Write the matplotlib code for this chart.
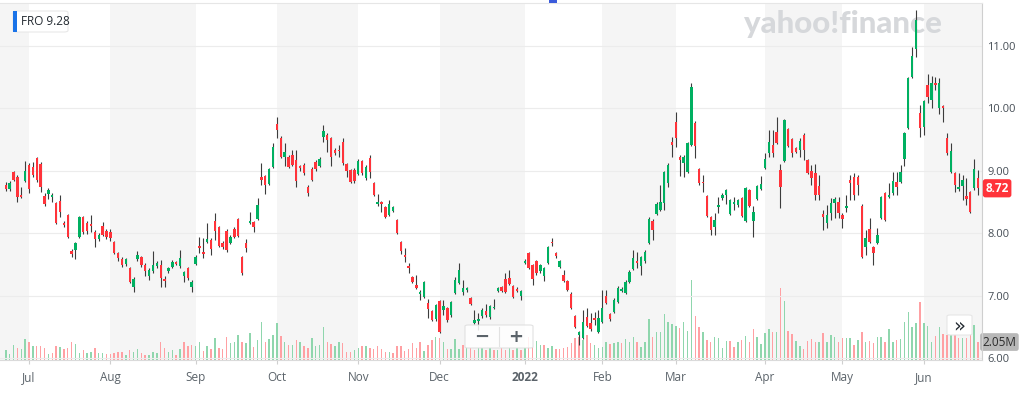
import numpy as np
import pandas as pd
import matplotlib.pyplot as plt
from matplotlib.patches import Rectangle, FancyBboxPatch

# ====== Dados (FRO, diario, jun/2021 - jun/2022) =============================

ticker = "FRO"
header_price = 9.28

holidays = ["2021-07-05", "2021-09-06", "2021-11-25", "2021-12-24", "2022-01-17",
            "2022-02-21", "2022-04-15", "2022-05-30", "2022-06-20"]

opens = [
    8.77, 8.71, 8.98, 8.90, 8.62, 8.84, 9.09, 9.06, 9.20, 9.11, 8.60, 8.63, 8.58, 8.48, 8.52, 8.17,
    8.29, 7.72, 7.73, 7.94, 8.26, 8.16, 8.15, 8.02, 7.90, 8.12, 8.04, 8.02, 7.86, 7.68, 7.59, 7.50,
    7.44, 7.14, 7.58, 7.62, 7.49, 7.31, 7.39, 7.47, 7.49, 7.27, 7.39, 7.46, 7.54, 7.47, 7.31, 7.44,
    7.14, 7.51, 7.80, 7.70, 7.86, 7.89, 8.20, 8.10, 7.84, 8.04, 7.84, 8.07, 8.23, 7.62, 7.84, 8.16,
    8.18, 8.23, 8.90, 8.92, 8.79, 9.06, 9.75, 9.52, 9.22, 9.22, 9.25, 9.17, 9.07, 9.09, 8.74, 9.03,
    9.14, 9.08, 9.54, 9.57, 9.52, 9.33, 9.34, 9.46, 9.11, 9.01, 9.02, 8.95, 9.16, 8.88, 9.20, 8.80,
    8.46, 8.50, 8.42, 8.29, 8.36, 8.21, 7.86, 7.65, 7.47, 7.30, 7.17, 7.02, 6.98, 6.88, 6.75, 6.62,
    6.91, 6.77, 6.80, 6.69, 7.04, 7.20, 7.06, 7.09, 6.96, 6.56, 6.60, 6.67, 6.75, 6.66, 6.80, 7.07,
    7.14, 7.27, 7.28, 7.15, 7.11, 7.00, 7.53, 7.68, 7.49, 7.55, 7.39, 7.31, 7.52, 7.86, 7.68, 7.46,
    7.33, 7.23, 7.03, 6.67, 6.37, 6.32, 6.66, 6.56, 6.64, 6.42, 6.58, 7.00, 6.70, 6.74, 6.90, 7.07,
    7.04, 7.22, 7.43, 7.56, 7.47, 7.55, 7.84, 8.20, 8.31, 8.37, 8.48, 8.80, 9.46, 9.78, 9.22, 9.13,
    8.98, 9.41, 9.77, 9.03, 8.82, 8.60, 8.26, 8.10, 8.42, 8.56, 8.61, 8.31, 8.47, 8.45, 8.56, 8.20,
    8.69, 8.20, 8.55, 8.71, 9.05, 9.28, 9.41, 9.62, 9.01, 9.16, 9.67, 9.51, 9.36, 9.33, 9.58, 9.17,
    9.00, 8.96, 8.76, 8.31, 8.16, 8.32, 8.48, 8.50, 8.29, 8.40, 8.85, 8.90, 8.90, 8.44, 7.78, 8.07,
    7.78, 7.84, 8.24, 8.64, 8.58, 8.64, 8.82, 8.82, 9.19, 9.69, 10.50, 10.95, 9.93, 9.70, 10.38, 10.14,
    10.41, 10.00, 10.04, 9.52, 8.98, 8.96, 8.71, 8.76, 8.60, 8.66, 8.72, 8.88,
]
highs = [
    8.82, 8.84, 9.00, 8.93, 8.74, 9.16, 9.12, 9.14, 9.22, 9.14, 8.65, 8.73, 8.65, 8.50, 8.61, 8.20,
    8.30, 7.75, 7.86, 8.28, 8.28, 8.20, 8.29, 8.05, 8.00, 8.18, 8.06, 8.06, 7.88, 7.70, 7.62, 7.60,
    7.46, 7.30, 7.71, 7.64, 7.52, 7.44, 7.71, 7.55, 7.57, 7.31, 7.46, 7.57, 7.56, 7.73, 7.40, 7.46,
    7.25, 7.65, 7.94, 7.92, 8.16, 7.92, 8.32, 8.12, 7.88, 8.07, 7.97, 8.10, 8.25, 7.64, 7.91, 8.34,
    8.20, 8.56, 9.12, 8.94, 9.05, 9.45, 9.86, 9.55, 9.45, 9.25, 9.33, 9.33, 9.10, 9.12, 8.77, 9.06,
    9.17, 9.22, 9.73, 9.60, 9.54, 9.36, 9.41, 9.53, 9.13, 9.03, 9.04, 9.19, 9.18, 9.09, 9.25, 8.82,
    8.63, 8.52, 8.44, 8.53, 8.44, 8.23, 7.88, 7.76, 7.52, 7.32, 7.33, 7.09, 7.24, 6.95, 6.77, 6.87,
    6.93, 6.93, 6.82, 6.92, 7.30, 7.52, 7.25, 7.14, 6.98, 6.77, 6.72, 6.80, 6.87, 6.85, 6.95, 7.14,
    7.16, 7.36, 7.41, 7.17, 7.13, 7.09, 7.58, 7.70, 7.51, 7.57, 7.51, 7.46, 7.80, 7.92, 7.70, 7.57,
    7.41, 7.25, 7.05, 6.69, 6.44, 6.77, 6.80, 6.72, 6.74, 6.77, 7.09, 7.09, 6.72, 6.96, 7.15, 7.13,
    7.25, 7.41, 7.73, 7.70, 7.64, 7.73, 8.26, 8.22, 8.50, 8.77, 9.00, 9.12, 9.54, 9.94, 9.25, 9.25,
    9.46, 10.41, 9.80, 9.05, 8.93, 8.62, 8.28, 8.32, 8.58, 8.64, 8.71, 8.55, 8.58, 8.55, 8.58, 8.74,
    8.71, 8.44, 8.78, 8.92, 9.29, 9.65, 9.65, 9.86, 9.11, 9.83, 9.69, 9.53, 9.38, 9.53, 9.60, 9.19,
    9.09, 9.11, 8.93, 8.37, 8.45, 8.56, 8.58, 8.58, 8.32, 8.61, 8.93, 8.96, 8.93, 8.46, 8.05, 8.24,
    7.80, 8.08, 8.60, 8.66, 8.80, 8.98, 8.98, 9.09, 9.62, 10.51, 10.98, 11.58, 10.05, 10.14, 10.55, 10.52,
    10.50, 10.49, 10.06, 9.60, 9.45, 8.98, 8.96, 8.93, 8.88, 8.68, 9.19, 9.01,
]
lows = [
    8.68, 8.67, 8.83, 8.50, 8.56, 8.82, 8.64, 8.90, 8.82, 8.66, 8.44, 8.55, 8.50, 8.15, 8.26, 8.10,
    7.92, 7.62, 7.59, 7.92, 7.98, 7.99, 8.02, 7.78, 7.88, 7.95, 7.90, 7.88, 7.66, 7.56, 7.46, 7.48,
    7.20, 7.06, 7.55, 7.46, 7.31, 7.25, 7.37, 7.45, 7.14, 7.14, 7.37, 7.44, 7.49, 7.45, 7.22, 7.25,
    7.06, 7.49, 7.68, 7.60, 7.84, 7.65, 7.89, 7.78, 7.74, 7.70, 7.82, 7.92, 7.94, 7.33, 7.70, 8.14,
    8.02, 8.21, 8.77, 8.63, 8.77, 9.04, 9.53, 9.20, 9.08, 9.04, 9.07, 8.74, 9.00, 8.94, 8.60, 8.83,
    9.00, 9.06, 9.46, 9.30, 9.08, 9.25, 9.22, 9.10, 8.90, 8.80, 8.81, 8.93, 8.93, 8.86, 8.88, 8.59,
    8.44, 8.34, 8.24, 8.27, 8.34, 7.98, 7.67, 7.54, 7.36, 7.20, 7.10, 6.93, 6.96, 6.64, 6.59, 6.60,
    6.40, 6.69, 6.58, 6.66, 7.02, 7.18, 7.01, 7.06, 6.85, 6.54, 6.45, 6.64, 6.66, 6.63, 6.78, 7.05,
    7.05, 7.04, 7.17, 6.96, 7.06, 6.93, 7.50, 7.42, 7.17, 7.33, 7.37, 7.23, 7.50, 7.80, 7.60, 7.44,
    7.21, 7.07, 6.78, 6.48, 6.21, 6.30, 6.49, 6.44, 6.53, 6.40, 6.56, 6.86, 6.60, 6.72, 6.88, 7.05,
    7.02, 7.20, 7.41, 7.44, 7.33, 7.53, 7.82, 7.89, 8.29, 8.35, 8.37, 8.74, 9.22, 9.38, 8.92, 8.90,
    8.96, 9.39, 9.20, 8.78, 8.66, 8.26, 7.97, 7.97, 8.32, 8.54, 8.47, 8.29, 8.37, 8.42, 8.26, 8.18,
    8.42, 7.94, 8.53, 8.69, 9.03, 9.22, 9.22, 9.43, 8.40, 9.14, 9.38, 9.22, 9.28, 9.22, 9.17, 8.95,
    8.77, 8.53, 8.53, 8.05, 8.08, 8.21, 8.24, 8.24, 8.08, 8.34, 8.53, 8.53, 8.61, 7.60, 7.65, 7.84,
    7.49, 7.82, 8.22, 8.19, 8.56, 8.62, 8.61, 8.80, 9.08, 9.67, 10.48, 10.82, 9.54, 9.57, 10.09, 10.00,
    10.29, 9.91, 9.78, 9.26, 8.96, 8.66, 8.68, 8.53, 8.45, 8.32, 8.70, 8.61,
]
closes = [
    8.71, 8.80, 8.85, 8.58, 8.58, 9.00, 8.71, 8.93, 8.85, 8.74, 8.47, 8.69, 8.62, 8.16, 8.34, 8.13,
    7.94, 7.66, 7.84, 8.26, 8.02, 8.03, 8.11, 7.90, 7.97, 7.97, 7.94, 7.92, 7.68, 7.60, 7.49, 7.58,
    7.22, 7.27, 7.65, 7.49, 7.39, 7.41, 7.49, 7.52, 7.28, 7.24, 7.44, 7.54, 7.51, 7.60, 7.38, 7.28,
    7.22, 7.62, 7.76, 7.66, 7.90, 7.75, 8.04, 7.80, 7.78, 7.73, 7.94, 7.94, 7.96, 7.36, 7.76, 8.19,
    8.10, 8.45, 8.86, 8.77, 9.03, 9.38, 9.65, 9.22, 9.30, 9.06, 9.09, 8.84, 9.04, 8.96, 8.64, 8.85,
    9.03, 9.19, 9.64, 9.49, 9.22, 9.28, 9.31, 9.12, 9.00, 8.82, 8.83, 9.16, 8.97, 9.06, 8.98, 8.61,
    8.50, 8.47, 8.26, 8.47, 8.42, 8.00, 7.71, 7.62, 7.44, 7.22, 7.12, 7.05, 7.22, 6.79, 6.61, 6.85,
    6.42, 6.83, 6.61, 6.90, 7.25, 7.41, 7.12, 7.12, 6.87, 6.61, 6.63, 6.77, 6.69, 6.83, 6.82, 7.12,
    7.07, 7.06, 7.19, 6.98, 7.08, 7.07, 7.56, 7.44, 7.27, 7.36, 7.49, 7.44, 7.78, 7.84, 7.63, 7.55,
    7.23, 7.09, 6.80, 6.50, 6.42, 6.58, 6.51, 6.46, 6.61, 6.64, 6.80, 6.88, 6.63, 6.93, 7.12, 7.10,
    7.22, 7.38, 7.60, 7.53, 7.62, 7.70, 8.23, 8.05, 8.47, 8.50, 8.98, 9.09, 9.41, 9.52, 9.17, 9.22,
    9.44, 10.34, 9.40, 8.80, 8.80, 8.28, 8.05, 8.21, 8.45, 8.61, 8.69, 8.53, 8.50, 8.53, 8.28, 8.72,
    8.44, 8.34, 8.76, 8.79, 9.19, 9.46, 9.28, 9.45, 8.74, 9.81, 9.40, 9.28, 9.30, 9.48, 9.33, 8.97,
    8.88, 8.61, 8.61, 8.26, 8.29, 8.48, 8.55, 8.32, 8.23, 8.44, 8.80, 8.61, 8.77, 7.62, 7.92, 7.86,
    7.68, 7.97, 8.58, 8.21, 8.61, 8.83, 8.74, 8.98, 9.60, 10.49, 10.84, 11.42, 9.69, 10.12, 10.18, 10.40,
    10.38, 10.41, 10.01, 9.28, 9.32, 8.77, 8.74, 8.85, 8.55, 8.34, 9.03, 8.72,
]
# volume em milhoes
volumes = [
    1.14, 0.68, 1.71, 1.37, 1.25, 2.39, 2.05, 1.60, 1.60, 1.60, 1.37, 0.68, 0.80, 1.60, 1.48, 1.25,
    1.37, 2.05, 1.82, 0.80, 1.14, 0.80, 0.91, 1.37, 0.80, 0.80, 0.68, 0.68, 0.80, 0.91, 0.91, 0.57,
    1.14, 0.91, 1.25, 0.80, 0.57, 0.57, 0.91, 0.80, 2.05, 1.37, 0.91, 1.14, 0.57, 1.25, 2.05, 1.60,
    1.71, 1.60, 2.05, 1.03, 1.60, 1.25, 2.51, 1.37, 1.25, 2.62, 1.94, 2.05, 2.85, 2.05, 1.94, 3.08,
    1.48, 2.28, 4.33, 2.05, 2.39, 2.85, 4.22, 2.74, 2.05, 1.71, 1.71, 2.28, 2.05, 1.60, 1.37, 2.51,
    1.60, 1.71, 3.76, 2.05, 1.82, 1.60, 2.05, 1.94, 0.91, 0.91, 1.14, 1.37, 1.60, 1.60, 1.37, 1.25,
    1.60, 1.25, 0.91, 0.91, 0.80, 1.60, 1.60, 1.03, 1.25, 1.94, 1.37, 2.05, 1.03, 1.71, 2.28, 2.62,
    2.51, 2.05, 1.25, 1.25, 2.39, 1.25, 1.71, 1.37, 1.37, 1.14, 1.37, 1.37, 1.14, 1.37, 1.14, 1.14,
    1.37, 1.14, 1.37, 1.14, 1.37, 1.14, 1.37, 2.62, 1.48, 2.17, 1.71, 1.71, 1.37, 1.60, 1.25, 1.25,
    1.37, 1.48, 1.94, 2.51, 2.62, 2.28, 2.85, 1.94, 1.71, 1.37, 1.48, 2.05, 1.82, 1.94, 2.05, 1.94,
    2.39, 2.05, 2.62, 2.05, 1.48, 2.05, 4.67, 2.62, 3.19, 3.19, 5.24, 4.33, 4.10, 3.88, 3.65, 4.33,
    3.31, 9.12, 5.02, 3.76, 3.19, 2.28, 2.05, 2.62, 2.51, 1.37, 2.17, 2.17, 1.48, 2.05, 2.28, 2.74,
    2.05, 3.53, 2.62, 1.82, 3.08, 3.53, 3.19, 3.19, 8.21, 6.73, 3.31, 2.96, 2.17, 1.60, 1.25, 2.17,
    2.39, 2.05, 2.05, 3.08, 2.05, 2.85, 2.62, 2.05, 2.51, 2.51, 2.51, 1.71, 2.28, 3.19, 2.05, 2.17,
    1.94, 2.62, 2.62, 2.05, 3.53, 2.05, 2.28, 2.39, 4.33, 5.47, 3.76, 4.22, 6.61, 4.22, 3.88, 2.05,
    2.74, 3.76, 2.96, 2.85, 2.85, 2.85, 2.51, 2.51, 2.51, 2.85, 3.99, 2.05,
]

# ====== Preparacao ===========================================================

o, h, l, c = map(np.array, (opens, highs, lows, closes))
v = np.array(volumes)
n = len(c)
x = np.arange(n)

dates = pd.bdate_range("2021-06-23", "2022-06-22")
dates = dates[~dates.isin(pd.to_datetime(holidays))][:n]
months = dates.to_period("M")
starts = [i for i in range(1, n) if months[i] != months[i - 1]]
tick_labels = ["2022" if dates[i].month == 1 else dates[i].strftime("%b") for i in starts]

green, red = "#00b061", "#ff333a"
candle_colors = np.where(c >= o, green, red)
prev = np.concatenate([[c[0]], c[:-1]])
vol_colors = np.where(c >= prev, "#8fd6ad", "#ffa0a3")

plt.rcParams["font.family"] = ["Open Sans", "DejaVu Sans"]

# ====== Grafico ==============================================================

W, H = 1023, 394
fig = plt.figure(figsize=(W / 100, H / 100), dpi=100)
rect = [0, 34 / H, 981.5 / W, 357 / H]
ax = fig.add_axes(rect)
ax2 = ax.twinx()
ax.set_zorder(ax2.get_zorder() + 1)
ax.patch.set_visible(False)

# faixas alternadas por mes
edges = [-5] + list(starts) + [n + 5]
for k in range(len(edges) - 1):
    if k % 2 == 0:
        ax2.axvspan(edges[k], edges[k + 1], color="#f5f5f5", lw=0, zorder=0)

# marca d'agua (atras dos candles)
ax2.text(843 / 981.5, 1 - 21 / 357, "yahoo!finance", transform=ax2.transAxes, ha="center", va="center",
         fontsize=22.5, fontweight="black", color="#d6d8db", family=["Lato", "DejaVu Sans"], zorder=1)

ax2.bar(x, v, width=0.38, color=vol_colors, lw=0, zorder=2)
ax2.set_ylim(0, 40.7)
ax2.set_yticks([])
for s in ax2.spines.values():
    s.set_visible(False)

ax.vlines(x, l, h, color="#3c3c3c", lw=0.8, zorder=3)
body_lo = np.minimum(o, c)
body_h = np.maximum(np.abs(c - o), 0.025)
ax.bar(x, body_h, bottom=body_lo, width=0.62, color=candle_colors, lw=0, zorder=4)

ax.set_xlim(-1.49, 251.9)
ax.set_ylim(5.968, 11.689)
ax.set_yticks([6, 7, 8, 9, 10, 11])
ax.yaxis.set_major_formatter(plt.FormatStrFormatter("%.2f"))
ax.yaxis.tick_right()
ax.grid(axis="y", color="#ececec", lw=0.8, zorder=1)
ax.set_xticks(starts)
ax.set_xticklabels(tick_labels)
for t in ax.get_xticklabels():
    if t.get_text() == "2022":
        t.set_fontweight("bold")
        t.set_color("#232a31")
ax.tick_params(axis="x", length=3, color="#cfcfcf", labelcolor="#5b636a", labelsize=8.5, pad=5)
ax.tick_params(axis="y", length=0, labelcolor="#464e56", labelsize=8, pad=4)
ax.spines["left"].set_visible(False)
ax.spines["right"].set_color("#cfcfcf")
ax.spines["top"].set_color("#e6e6e6")
ax.spines["bottom"].set_color("#dadada")

# etiquetas de ultimo preco e volume
ax.text(1.004, c[-1], f"{c[-1]:.2f}", transform=ax.get_yaxis_transform(), ha="left", va="center",
        color="white", fontsize=8.5, fontweight="bold",
        bbox=dict(boxstyle="round,pad=0.22", fc=red, ec="none"))
ax2.text(1.001, v[-1], f"{v[-1]:.2f}M", transform=ax2.get_yaxis_transform(), ha="left", va="center",
         color="#2b2b2b", fontsize=8.5,
         bbox=dict(boxstyle="round,pad=0.2", fc="#b8b8b8", ec="none"), zorder=10)


def fx(px):
    return px / W


def fy(py):
    return 1 - py / H


# cabecalho do ticker
fig.patches.append(FancyBboxPatch((fx(13), fy(32)), fx(55), 21 / H, boxstyle="round,pad=0,rounding_size=0.004",
                                  transform=fig.transFigure, fc="white", ec="#e8e8e8", lw=0.8, zorder=5))
fig.patches.append(Rectangle((fx(13), fy(32)), fx(3.5), 21 / H, transform=fig.transFigure,
                             fc="#1a73e8", ec="none", zorder=6))
fig.text(fx(21), fy(21.5), f"{ticker} {header_price:.2f}", ha="left", va="center", fontsize=8.5,
         color="#232a31", zorder=7)

# controles de zoom
fig.patches.append(FancyBboxPatch((fx(465), fy(348)), fx(68), 23 / H, boxstyle="round,pad=0,rounding_size=0.003",
                                  transform=fig.transFigure, fc="white", ec="#dddddd", lw=0.8, alpha=0.85, zorder=5))
fig.lines.append(plt.Line2D([fx(498.5), fx(498.5)], [fy(346), fy(327)], transform=fig.transFigure,
                            color="#e2e2e2", lw=0.8, zorder=6))
fig.text(fx(482), fy(336.5), "\u2212", ha="center", va="center", fontsize=13, fontweight="bold",
         color="#5b636a", family=["DejaVu Sans"], zorder=7)
fig.text(fx(515.5), fy(336.5), "+", ha="center", va="center", fontsize=13, fontweight="bold",
         color="#5b636a", family=["DejaVu Sans"], zorder=7)
fig.patches.append(FancyBboxPatch((fx(947), fy(335)), fx(25), 20 / H, boxstyle="round,pad=0,rounding_size=0.003",
                                  transform=fig.transFigure, fc="white", ec="#e6e6e6", lw=0.8, zorder=5))
fig.text(fx(959.5), fy(325.5), "\u00bb", ha="center", va="center", fontsize=14, color="#232a31",
         family=["DejaVu Sans"], zorder=7)

# marcador azul no topo
fig.patches.append(Rectangle((fx(549), fy(3)), fx(8), 3 / H, transform=fig.transFigure,
                             fc="#3b5bdb", ec="none", zorder=6))

plt.savefig("out.png", dpi=100)
plt.close()
